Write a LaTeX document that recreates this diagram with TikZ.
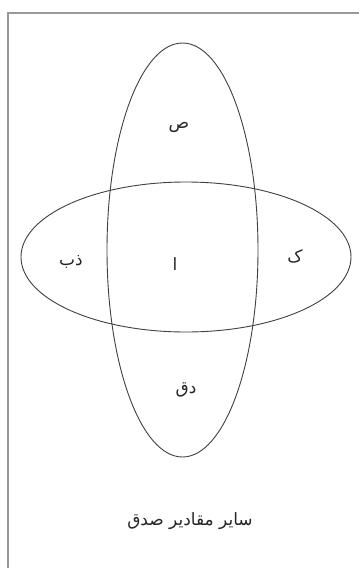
\documentclass[tikz,border=0pt]{standalone}
\usepackage{fontspec}
\newfontfamily\arabicfont[Script=Arabic]{DejaVu Sans}
\TeXXeTstate=1
\begin{document}
\begin{tikzpicture}[x=1pt,y=-1pt,
  set/.style={draw=black!75,line width=0.9pt},
  frameline/.style={draw=black!40,line width=1.4pt},
  lbl/.style={font=\arabicfont\fontsize{17}{20}\selectfont,inner sep=0pt,text=black!85}]
\useasboundingbox (0,0) rectangle (359,568);
\fill[white] (0,0) rectangle (359,568);
% frame (cut at the bottom)
\draw[frameline] (8,568) -- (8,13) -- (359,13);
% sets
\coordinate (vc) at (182.5,250);
\coordinate (hc) at (186,257);
\draw[set] (vc) ellipse [x radius=75.5, y radius=207];
\draw[set] (hc) ellipse [x radius=165, y radius=75];
% labels
\node[lbl] (s) at (179,127) {\beginR ص\endR};
\node[lbl] (dq) at (186,390) {\beginR دق\endR};
\node[lbl] (zb) at (71,262) {\beginR ذب\endR};
\node[lbl] (a) at (175,264) {\beginR ا\endR};
\node[lbl] (k) at (295,256) {\beginR ک\endR};
\node[lbl] (rest) at (190,521) {\beginR سایر مقادیر صدق\endR};
\end{tikzpicture}
\end{document}
